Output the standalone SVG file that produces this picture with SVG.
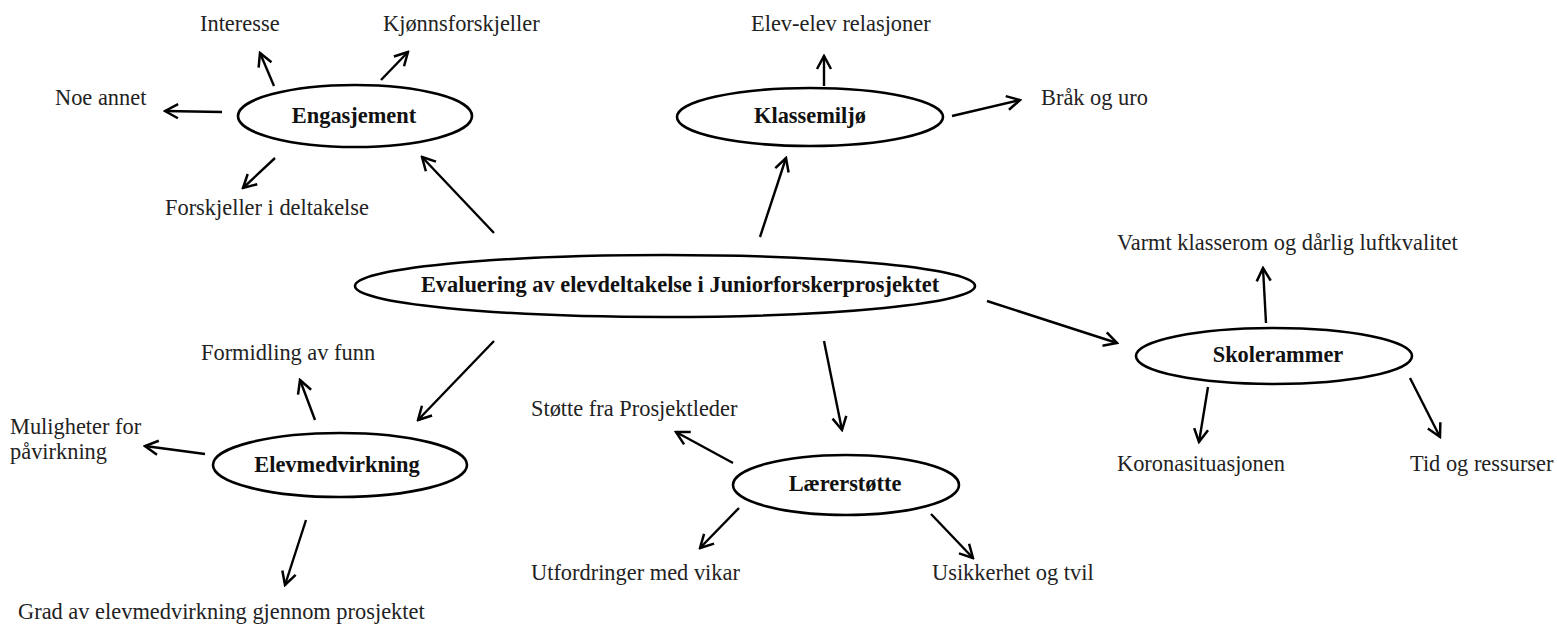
<svg xmlns="http://www.w3.org/2000/svg" width="1557" height="628" viewBox="0 0 1557 628">
<style>
.n ellipse{fill:#fff;stroke:#000;stroke-width:2.6}
.lb{font-family:"Liberation Serif","Times New Roman",serif;font-size:22.4px;font-weight:bold;fill:#111;text-anchor:middle}
.t{font-family:"Liberation Serif","Times New Roman",serif;font-size:22.4px;fill:#222}
#edges line{stroke:#000;stroke-width:2.4;marker-end:url(#ah)}
</style>
<defs>
<marker id="ah" markerUnits="userSpaceOnUse" viewBox="0 0 18 18" markerWidth="18" markerHeight="18" refX="16" refY="9" orient="auto">
<path d="M3,2 L16,9 L3,16" fill="none" stroke="#000" stroke-width="2.5" stroke-linejoin="miter"/>
</marker>
</defs>
<rect width="1557" height="628" fill="#fff"/>
<g id="edges">
<line x1="274" y1="86" x2="260" y2="53"/>
<line x1="381" y1="80" x2="408" y2="52"/>
<line x1="222" y1="112" x2="165" y2="111"/>
<line x1="275" y1="158" x2="243" y2="188"/>
<line x1="494" y1="233" x2="422" y2="157"/>
<line x1="824" y1="86" x2="824" y2="56"/>
<line x1="952" y1="116" x2="1020" y2="100"/>
<line x1="760" y1="237" x2="786" y2="158"/>
<line x1="987" y1="301" x2="1117" y2="343"/>
<line x1="1266" y1="323" x2="1263" y2="268"/>
<line x1="1208" y1="387" x2="1199" y2="442"/>
<line x1="1410" y1="378" x2="1440" y2="437"/>
<line x1="494" y1="341" x2="418" y2="420"/>
<line x1="315" y1="420" x2="300" y2="380"/>
<line x1="205" y1="454" x2="145" y2="446"/>
<line x1="306" y1="520" x2="285" y2="585"/>
<line x1="824" y1="341" x2="842" y2="430"/>
<line x1="733" y1="463" x2="676" y2="432"/>
<line x1="739" y1="508" x2="700" y2="548"/>
<line x1="931" y1="514" x2="973" y2="558"/>
</g>
<g id="central" class="n">
<ellipse cx="665" cy="286" rx="310" ry="31"/>
<text class="lb" x="680" y="292">Evaluering av elevdeltakelse i Juniorforskerprosjektet</text>
</g>
<g id="engasjement" class="n">
<ellipse cx="355" cy="116" rx="117" ry="31"/>
<text class="lb" x="354" y="123">Engasjement</text>
</g>
<g id="klassemiljo" class="n">
<ellipse cx="810" cy="117" rx="133" ry="29"/>
<text class="lb" x="810" y="123">Klassemiljø</text>
</g>
<g id="skolerammer" class="n">
<ellipse cx="1274" cy="356" rx="138" ry="28"/>
<text class="lb" x="1278" y="362">Skolerammer</text>
</g>
<g id="elevmedvirkning" class="n">
<ellipse cx="340" cy="465" rx="127" ry="32"/>
<text class="lb" x="337" y="472">Elevmedvirkning</text>
</g>
<g id="laererstotte" class="n">
<ellipse cx="846" cy="485" rx="113" ry="30"/>
<text class="lb" x="845" y="491">Lærerstøtte</text>
</g>
<g id="leaf-interesse"><text class="t" x="200" y="31">Interesse</text></g>
<g id="leaf-kjonn"><text class="t" x="383" y="31">Kjønnsforskjeller</text></g>
<g id="leaf-noe"><text class="t" x="55" y="105">Noe annet</text></g>
<g id="leaf-forskjeller"><text class="t" x="165" y="215">Forskjeller i deltakelse</text></g>
<g id="leaf-elev"><text class="t" x="751" y="31">Elev-elev relasjoner</text></g>
<g id="leaf-brak"><text class="t" x="1041" y="105">Bråk og uro</text></g>
<g id="leaf-varmt"><text class="t" x="1117" y="250">Varmt klasserom og dårlig luftkvalitet</text></g>
<g id="leaf-korona"><text class="t" x="1117" y="471">Koronasituasjonen</text></g>
<g id="leaf-tid"><text class="t" x="1410" y="471">Tid og ressurser</text></g>
<g id="leaf-stotte"><text class="t" x="531" y="416">Støtte fra Prosjektleder</text></g>
<g id="leaf-utfordringer"><text class="t" x="531" y="580">Utfordringer med vikar</text></g>
<g id="leaf-usikkerhet"><text class="t" x="932" y="580">Usikkerhet og tvil</text></g>
<g id="leaf-formidling"><text class="t" x="201" y="360">Formidling av funn</text></g>
<g id="leaf-muligheter"><text class="t" x="10" y="434">Muligheter for</text><text class="t" x="10" y="459">påvirkning</text></g>
<g id="leaf-grad"><text class="t" x="18" y="619">Grad av elevmedvirkning gjennom prosjektet</text></g>
</svg>
